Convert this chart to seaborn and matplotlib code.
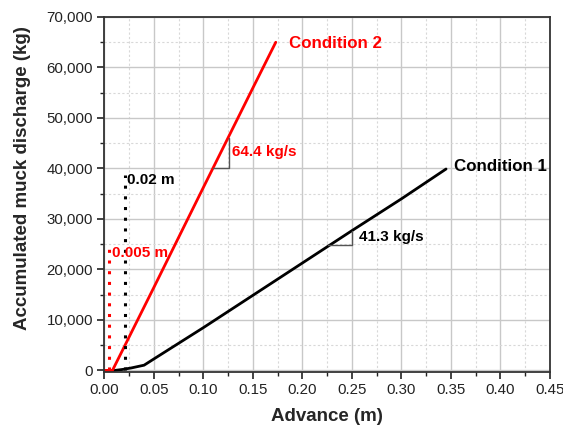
import matplotlib
matplotlib.use("Agg")
import matplotlib.pyplot as plt
import seaborn as sns
import pandas as pd
import numpy as np
from matplotlib.ticker import MultipleLocator, FuncFormatter

sns.set_theme(style="white")
plt.rcParams['font.family'] = ['Liberation Sans', 'DejaVu Sans']

# Condition 1 (black)
adv1 = [0.0, 0.010, 0.018, 0.027, 0.040, 0.050, 0.100, 0.150, 0.200, 0.250, 0.300, 0.345]
mass1 = [0, 0, 200, 500, 1050, 2300, 8500, 14900, 21300, 27700, 34000, 39900]
# Condition 2 (red)
adv2 = [-0.002, 0.0, 0.008, 0.050, 0.100, 0.150, 0.173]
mass2 = [0, 0, 0, 16500, 36300, 56000, 65000]

df1 = pd.DataFrame({"Advance (m)": adv1, "Mass": mass1})
df2 = pd.DataFrame({"Advance (m)": adv2, "Mass": mass2})

fig = plt.figure(figsize=(5.63, 4.29), dpi=100)
ax = fig.add_axes([104/563, 1-372/429, (550-104)/563, (372-17)/429])

ax.xaxis.set_major_locator(MultipleLocator(0.05))
ax.xaxis.set_minor_locator(MultipleLocator(0.025))
ax.yaxis.set_major_locator(MultipleLocator(10000))
ax.yaxis.set_minor_locator(MultipleLocator(5000))
ax.grid(which='major', color='#c8c8c8', linewidth=1.0, linestyle='-')
ax.grid(which='minor', color='#d8d8d8', linewidth=0.8, linestyle=(0, (2, 2)))
ax.set_axisbelow(True)

sns.lineplot(data=df1, x="Advance (m)", y="Mass", ax=ax, color='black', linewidth=2.0, sort=False)
sns.lineplot(data=df2, x="Advance (m)", y="Mass", ax=ax, color='#ff0000', linewidth=2.0, sort=False)

# dotted markers of start advance
ax.plot([0.005, 0.005], [0, 24500], color='#ff0000', linestyle=(0, (1, 2.5)), linewidth=2.2)
ax.plot([0.0205, 0.0205], [0, 38800], color='black', linestyle=(0, (1, 2.5)), linewidth=2.2)
ax.text(0.0075, 23300, "0.005 m", color='#ff0000', fontsize=11, fontweight='bold', va='center', ha='left')
ax.text(0.0225, 37700, "0.02 m", color='black', fontsize=11, fontweight='bold', va='center', ha='left')

# slope triangles
ax.plot([0.1096, 0.1253, 0.1253], [40000, 40000, 46100], color='#555555', linewidth=1.0)
ax.plot([0.2261, 0.2497, 0.2497], [24850, 24850, 27700], color='#555555', linewidth=1.0)
ax.text(0.129, 43200, "64.4 kg/s", color='#ff0000', fontsize=11, fontweight='bold', va='center', ha='left')
ax.text(0.2575, 26500, "41.3 kg/s", color='black', fontsize=11, fontweight='bold', va='center', ha='left')

ax.text(0.1865, 64800, "Condition 2", color='#ff0000', fontsize=12.2, fontweight='bold', va='center', ha='left')
ax.text(0.3535, 40300, "Condition 1", color='black', fontsize=12.2, fontweight='bold', va='center', ha='left')

ax.set_xlim(-0.0005, 0.45)
ax.set_ylim(-300, 70000)
ax.yaxis.set_major_formatter(FuncFormatter(lambda v, p: f"{int(v):,}"))
ax.xaxis.set_major_formatter(FuncFormatter(lambda v, p: f"{v:.2f}"))

for s in ax.spines.values():
    s.set_color('#333333')
    s.set_linewidth(1.3)

ax.tick_params(which='major', direction='out', length=5, width=1.2, color='#222222',
               labelsize=10.8, labelcolor='#222222', bottom=True, left=True, pad=3)
ax.tick_params(which='minor', direction='out', length=3, width=1.0, color='#222222',
               bottom=True, left=True)

ax.set_xlabel("Advance (m)", fontsize=13.5, fontweight='bold', labelpad=8)
ax.set_ylabel("Accumulated muck discharge (kg)", fontsize=13.5, fontweight='bold')
ax.yaxis.set_label_coords(-0.163, 0.545)

fig.savefig("out.png", dpi=100)
